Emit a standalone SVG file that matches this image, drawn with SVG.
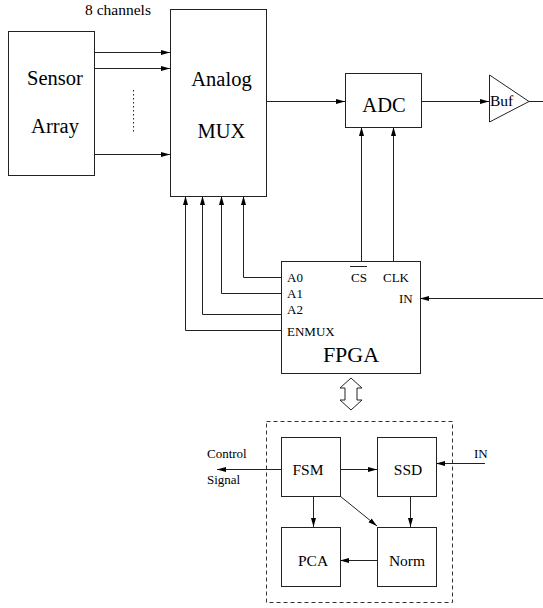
<svg xmlns="http://www.w3.org/2000/svg" width="543" height="608" viewBox="0 0 543 608" font-family="'Liberation Serif', 'Times New Roman', serif">
<defs>
<marker id="ah" markerWidth="9" markerHeight="6" refX="9" refY="3" orient="auto" markerUnits="userSpaceOnUse">
<path d="M0,0.5 L9,3 L0,5.5 Z" fill="#000"/>
</marker>
<style>
.box{fill:#fff;stroke:#222;stroke-width:1}
.ln{fill:none;stroke:#222;stroke-width:1}
.arr{fill:none;stroke:#222;stroke-width:1;marker-end:url(#ah)}
.t{font-family:'Liberation Serif','Times New Roman',serif;fill:#000}
.big{font-family:'Liberation Serif','Times New Roman',serif;font-size:20.5px;text-anchor:middle;fill:#000}
.mid{font-family:'Liberation Serif','Times New Roman',serif;font-size:15.5px;text-anchor:middle;fill:#000}
.sm{font-family:'Liberation Serif','Times New Roman',serif;font-size:13px;fill:#000}
.fp{font-family:'Liberation Serif','Times New Roman',serif;font-size:22px;text-anchor:middle;fill:#000}
</style>
</defs>
<rect width="543" height="608" fill="#fff"/>
<g id="connectors">
<line class="arr" x1="94" y1="52.5" x2="170" y2="52.5"/>
<line class="arr" x1="94" y1="68.5" x2="170" y2="68.5"/>
<line class="arr" x1="94" y1="154.5" x2="170" y2="154.5"/>
<line x1="133.5" y1="90" x2="133.5" y2="134" stroke="#222" stroke-width="1" stroke-dasharray="1.5,2.5"/>
<line class="arr" x1="266" y1="101.5" x2="345" y2="101.5"/>
<line class="arr" x1="421" y1="101.5" x2="489" y2="101.5"/>
<line class="ln" x1="529" y1="101.5" x2="543" y2="101.5"/>
<line class="arr" x1="361.5" y1="261" x2="361.5" y2="127"/>
<line class="arr" x1="393.5" y1="261" x2="393.5" y2="127"/>
<polyline class="arr" points="281,277.5 243.5,277.5 243.5,196"/>
<polyline class="arr" points="281,293.5 221.5,293.5 221.5,196"/>
<polyline class="arr" points="281,314.5 202.5,314.5 202.5,196"/>
<polyline class="arr" points="281,330.5 185.5,330.5 185.5,196"/>
<line class="arr" x1="543" y1="298.5" x2="420" y2="298.5"/>
<path d="M351,378 L362,388 L357,388 L357,400 L362,400 L351,410 L340,400 L345,400 L345,388 L340,388 Z" fill="#fff" stroke="#222" stroke-width="1"/>
<line class="arr" x1="281" y1="469.5" x2="217" y2="469.5"/>
<line class="arr" x1="340" y1="469.5" x2="377" y2="469.5"/>
<line class="arr" x1="485" y1="463.5" x2="436" y2="463.5"/>
<line class="arr" x1="313.5" y1="496" x2="313.5" y2="527"/>
<line class="arr" x1="340" y1="496" x2="377" y2="526"/>
<line class="arr" x1="410.5" y1="496" x2="410.5" y2="527"/>
<line class="arr" x1="377" y1="560.5" x2="340" y2="560.5"/>
</g>
<g id="sensor">
<rect class="box" x="8.5" y="31.5" width="86" height="144"/>
<text class="big" x="55" y="85">Sensor</text>
<text class="big" x="55" y="133">Array</text>
</g>
<text id="channels-label" class="mid" x="118" y="15">8 channels</text>
<g id="mux">
<rect class="box" x="170.5" y="9.5" width="96" height="187"/>
<text class="big" x="221.5" y="86">Analog</text>
<text class="big" x="221.5" y="138">MUX</text>
</g>
<g id="adc">
<rect class="box" x="345.5" y="73.5" width="76" height="54"/>
<text class="big" x="384" y="112">ADC</text>
</g>
<g id="buf">
<polygon points="489.5,75 529,101.5 489.5,122" fill="#fff" stroke="#222" stroke-width="1"/>
<text class="t" x="490" y="106" font-size="15.5">Buf</text>
</g>
<g id="fpga">
<rect class="box" x="281.5" y="261.5" width="139" height="112"/>
<text class="sm" x="287" y="282">A0</text>
<text class="sm" x="287" y="298">A1</text>
<text class="sm" x="287" y="314">A2</text>
<text class="sm" x="287" y="336">ENMUX</text>
<text class="sm" x="351" y="282">CS</text>
<line class="ln" x1="350" y1="266.5" x2="367" y2="266.5"/>
<text class="sm" x="383" y="282">CLK</text>
<text class="sm" x="399" y="303">IN</text>
<text class="fp" x="351" y="362">FPGA</text>
</g>
<rect id="fpga-internals" x="266.5" y="421.5" width="186" height="181" fill="none" stroke="#333" stroke-width="1" stroke-dasharray="4,3"/>
<g id="fsm">
<rect class="box" x="281.5" y="437.5" width="59" height="59"/>
<text class="mid" x="308" y="475">FSM</text>
</g>
<g id="ssd">
<rect class="box" x="377.5" y="437.5" width="59" height="59"/>
<text class="mid" x="408" y="475">SSD</text>
</g>
<g id="pca">
<rect class="box" x="281.5" y="527.5" width="59" height="59"/>
<text class="mid" x="313" y="566">PCA</text>
</g>
<g id="norm">
<rect class="box" x="377.5" y="527.5" width="59" height="59"/>
<text class="mid" x="407" y="566">Norm</text>
</g>
<text class="sm" x="207" y="458">Control</text>
<text class="sm" x="207" y="484">Signal</text>
<text class="sm" x="474" y="458">IN</text>
</svg>
